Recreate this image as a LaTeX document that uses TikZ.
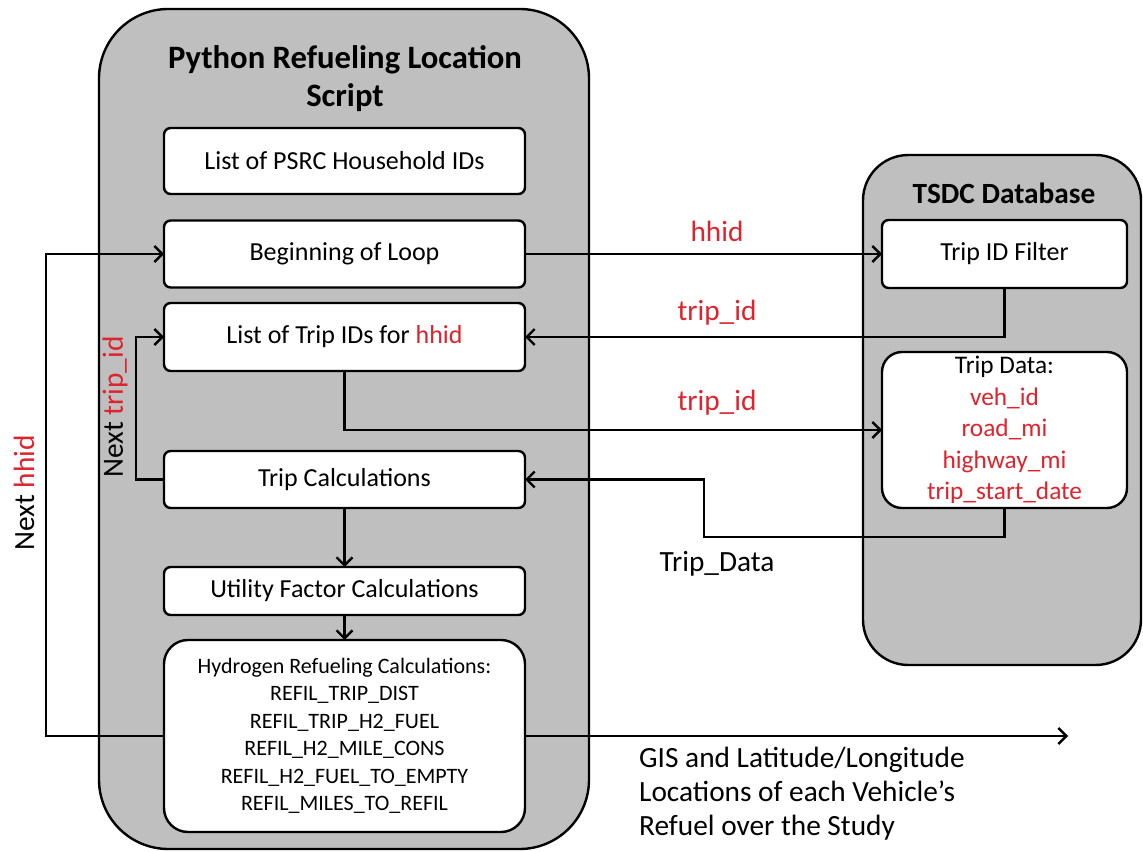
\documentclass[tikz,border=0pt]{standalone}
\usepackage{fontspec}
\setmainfont{Carlito}
\usetikzlibrary{arrows.meta}
\definecolor{panelgray}{RGB}{191,191,191}
\definecolor{varred}{RGB}{222,35,45}

\begin{document}
\begin{tikzpicture}[x=0.75pt,y=-0.75pt,line width=1.8pt,
  panel/.style={draw,fill=panelgray,rounded corners=#1,inner sep=0pt,outer sep=0pt},
  stepbox/.style={draw,fill=white,rounded corners=5pt,inner sep=0pt,outer sep=0pt,
    minimum width=270.75pt,align=center,font=\fontsize{19.5}{23}\selectfont},
  flow/.style={-{Straight Barb[length=6pt,width=12pt]}},
  lbl/.style={font=\fontsize{22}{26}\selectfont}]
  \useasboundingbox (0,0) rectangle (1143,852);
  \node[panel=52pt,minimum width=367.5pt,minimum height=630pt] (script) at (344,429) {};
  \node[panel=34pt,minimum width=208.5pt,minimum height=382.5pt] (tsdc) at (1002,410) {};
  \node[font=\bfseries\fontsize{24.5}{28.5}\selectfont,align=center] (scripttitle) at (345,79) {Python Refueling Location\\Script};
  \node[font=\bfseries\fontsize{22}{26}\selectfont] (tsdctitle) at (1004,193) {TSDC Database};
  % script steps
  \node[stepbox,minimum height=49.5pt] (hhids) at (344.5,161) {List of PSRC Household IDs};
  \node[stepbox,minimum height=50.25pt] (loop) at (344.5,254) {Beginning of Loop};
  \node[stepbox,minimum height=51pt] (tripids) at (344.5,337) {List of Trip IDs for \textcolor{varred}{hhid}};
  \node[stepbox,minimum height=42.75pt] (tripcalc) at (344.5,479.5) {Trip Calculations};
  \node[stepbox,minimum height=36pt] (utility) at (344.5,591) {Utility Factor Calculations};
  \node[stepbox,minimum height=144pt,rounded corners=18pt,font=\fontsize{16.5}{20.6}\selectfont] (hydrogen) at (344.5,736)
    {Hydrogen Refueling Calculations:\\REFIL\_TRIP\_DIST\\REFIL\_TRIP\_H2\_FUEL\\REFIL\_H2\_MILE\_CONS\\REFIL\_H2\_FUEL\_TO\_EMPTY\\REFIL\_MILES\_TO\_REFIL};
  % database
  \node[stepbox,minimum width=183.75pt,minimum height=51pt] (filter) at (1004.5,254) {Trip ID Filter};
  \node[stepbox,minimum width=183.75pt,minimum height=117pt,rounded corners=15pt,font=\fontsize{19}{23.6}\selectfont] (tripdata) at (1004.5,430)
    {Trip Data:\\\textcolor{varred}{veh\_id}\\\textcolor{varred}{road\_mi}\\\textcolor{varred}{highway\_mi}\\\textcolor{varred}{trip\_start\_date}};
  \coordinate (hhidloop) at (46,0);
  \coordinate (triploop) at (136,0);
  \coordinate (datajog) at (704,537);
  \coordinate (output) at (1068,736);
  \draw[flow] (loop.east) -- (loop.east -| filter.west);
  \draw[flow] (filter.south) |- (tripids.east);
  \draw[flow] (tripids.south) |- (tripdata.west);
  \draw[flow] (tripdata.south) -- (tripdata.south |- datajog) -- (datajog) |- (tripcalc.east);
  \draw[flow] (tripcalc) -- (utility);
  \draw[flow] (utility) -- (hydrogen);
  \draw[flow] (tripcalc.west) -- (tripcalc.west -| triploop) |- (tripids.west);
  \draw[flow] (hydrogen.west) -- (hydrogen.west -| hhidloop) |- (loop.west);
  \draw[flow] (hydrogen.east) -- (output);
  % labels
  \node[lbl,text=varred] (hhidlbl) at (717,231) {hhid};
  \node[lbl,text=varred] (tripidlbl) at (717,313) {trip\_id};
  \node[lbl,text=varred] (tripidlblb) at (717,403) {trip\_id};
  \node[lbl] (tripdatalbl) at (717,564) {Trip\_Data};
  \node[lbl,rotate=90] (nexttrip) at (115,407) {Next \textcolor{varred}{trip\_id}};
  \node[lbl,rotate=90] (nexthhid) at (24,493) {Next \textcolor{varred}{hhid}};
  \node[font=\fontsize{22}{25.5}\selectfont,align=left,anchor=west,inner sep=0pt] (gis) at (638,794)
    {GIS and Latitude/Longitude\\Locations of each Vehicle’s\\Refuel over the Study};
\end{tikzpicture}
\end{document}
